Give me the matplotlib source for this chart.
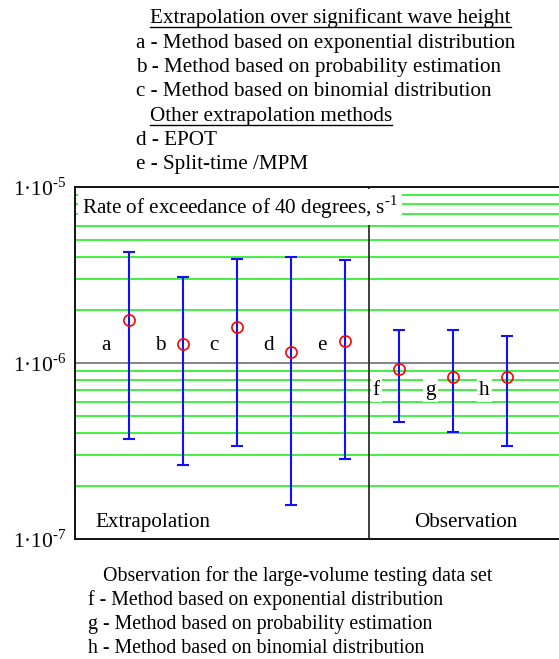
import matplotlib
matplotlib.use("Agg")
import matplotlib.pyplot as plt
from matplotlib.lines import Line2D
import numpy as np

# data
methods = ["a", "b", "c", "d", "e", "f", "g", "h"]
xPos = [1, 2, 3, 4, 5, 6, 7, 8]
rate = [1.75e-6, 1.28e-6, 1.60e-6, 1.15e-6, 1.33e-6, 9.2e-7, 8.3e-7, 8.3e-7]
upper = [4.27e-6, 3.08e-6, 3.90e-6, 4.0e-6, 3.85e-6, 1.54e-6, 1.54e-6, 1.42e-6]
lower = [3.7e-7, 2.63e-7, 3.38e-7, 1.56e-7, 2.85e-7, 4.62e-7, 4.06e-7, 3.38e-7]
labelY = [1.19e-6] * 5 + [6.58e-7] * 3
yTicks = [1e-7, 1e-6, 1e-5]
yTickLabels = [r"1·10$^{\text{-}7}$", r"1·10$^{\text{-}6}$", r"1·10$^{\text{-}5}$"]

headerLines = [
    ("Extrapolation over significant wave height", True),
    ("a - Method based on exponential distribution", False),
    ("b - Method based on probability estimation", False),
    ("c - Method based on binomial distribution", False),
    ("Other extrapolation methods", True),
    ("d - EPOT", False),
    ("e - Split-time /MPM", False),
]
footerLines = [
    "Observation for the large-volume testing data set",
    "f - Method based on exponential distribution",
    "g - Method based on probability estimation",
    "h - Method based on binomial distribution",
]

plt.rcParams["font.family"] = "Liberation Serif"
plt.rcParams["mathtext.fontset"] = "custom"
plt.rcParams["mathtext.rm"] = "Liberation Serif"

W, H = 559, 659
FS = 15.2
fig = plt.figure(figsize=(W / 100, H / 100), dpi=100)


def fx(px):
    return px / W


def fy(py):
    return 1 - py / H


ax = fig.add_axes([fx(75), fy(539), fx(561 - 75), (539 - 187) / H])
ax.set_yscale("log")
ax.set_ylim(1e-7, 1e-5)
ax.set_xlim(0, 9)

ax.set_yticks(yTicks)
ax.set_yticklabels(yTickLabels, fontsize=15.5)
ax.set_yticks([m * d for d in (1e-7, 1e-6) for m in range(2, 10)], minor=True)
ax.tick_params(axis="y", which="both", length=0, pad=6)
ax.set_xticks([])

ax.yaxis.grid(True, which="minor", color="#22ee22", lw=1.2)
ax.axhline(1e-6, color="#707070", lw=1.2, zorder=1)

for s in ["left", "top", "bottom"]:
    ax.spines[s].set_linewidth(1.3)
ax.spines["right"].set_visible(False)

ax.axvline(5.45, color="#303030", lw=1.3, zorder=2)

ax.errorbar(
    xPos, rate,
    yerr=[np.array(rate) - np.array(lower), np.array(upper) - np.array(rate)],
    fmt="none", ecolor="#1010ff", elinewidth=1.5, capsize=4, capthick=1.5,
    zorder=3,
)
ax.plot(xPos, rate, "o", mfc="none", mec="red", ms=8, mew=1.2, zorder=4)

for x, y, m in zip(xPos, labelY, methods):
    ax.text(x - 0.42, y, m, ha="center", va="baseline", fontsize=FS,
            bbox=dict(facecolor="white", edgecolor="none", pad=1.5), zorder=5)

ax.text(fx(82 - 75) / fx(561 - 75), 0.943,
        r"Rate of exceedance of 40 degrees, s$^{\text{-}1}$",
        transform=ax.transAxes, ha="left", va="center", fontsize=FS,
        bbox=dict(facecolor="white", edgecolor="none", pad=3), zorder=6)

ax.text(0.37, 1.17e-7, "Extrapolation", ha="left", va="baseline", fontsize=FS)
ax.text(7.24, 1.17e-7, "Observation", ha="center", va="baseline", fontsize=FS)

# header text block
headerBase = [23, 48, 72, 96, 121, 145, 169]
texts = []
for (line, underline), yb in zip(headerLines, headerBase):
    x0 = 150 if underline else 136
    t = fig.text(fx(x0), fy(yb), line, ha="left", va="baseline", fontsize=FS)
    texts.append((t, underline, yb))

footerBase = [581, 605, 629, 653]
for i, (line, yb) in enumerate(zip(footerLines, footerBase)):
    x0 = 103 if i == 0 else 88
    fig.text(fx(x0), fy(yb), line, ha="left", va="baseline", fontsize=14.3)

# underline the section headers
fig.canvas.draw()
renderer = fig.canvas.get_renderer()
for t, underline, yb in texts:
    if not underline:
        continue
    bb = t.get_window_extent(renderer)
    fig.add_artist(Line2D([bb.x0 / W, bb.x1 / W], [fy(yb + 4)] * 2,
                          color="black", lw=1.0, transform=fig.transFigure))

fig.savefig("out.png", dpi=100)
